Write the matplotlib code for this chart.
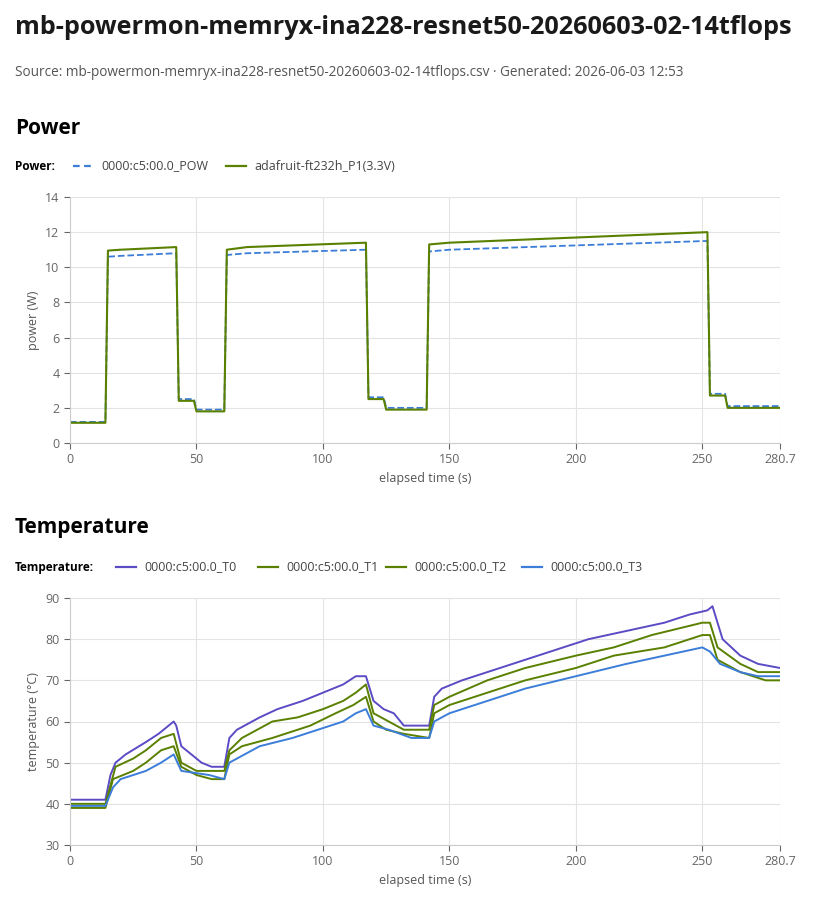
import matplotlib.pyplot as plt
from matplotlib.lines import Line2D

plt.rcParams["font.family"] = ["Segoe UI", "Open Sans", "DejaVu Sans"]

t_max = 280.7
xticks = [0, 50, 100, 150, 200, 250, 280.7]
xtick_labels = ["0", "50", "100", "150", "200", "250", "280.7"]

# power keypoints (time s, watts)
pow_t = [0, 14, 15, 20, 42, 43, 49, 50, 61, 62, 70, 117, 118, 124, 125, 141, 142, 150, 252, 253, 259, 260, 280.7]
pow_v = [1.2, 1.2, 10.6, 10.65, 10.8, 2.5, 2.5, 1.9, 1.9, 10.7, 10.8, 11.0, 2.6, 2.6, 2.0, 2.0, 10.9, 11.0, 11.5, 2.8, 2.8, 2.1, 2.1]
p1_t = [0, 14, 15, 20, 42, 43, 49, 50, 61, 62, 70, 117, 118, 124, 125, 141, 142, 150, 252, 253, 259, 260, 280.7]
p1_v = [1.15, 1.15, 10.95, 11.0, 11.15, 2.4, 2.4, 1.8, 1.8, 11.0, 11.15, 11.4, 2.5, 2.5, 1.9, 1.9, 11.3, 11.4, 12.0, 2.7, 2.7, 2.0, 2.0]

# temperature keypoints (time s, degC)
t0_t = [0, 14, 16, 18, 22, 30, 35, 41, 42, 44, 48, 52, 56, 61, 63, 66, 75, 82, 92, 100, 108, 113, 117, 120, 124, 128, 132, 142, 144, 147, 155, 165, 175, 185, 195, 205, 220, 235, 245, 252, 254, 258, 265, 272, 280.7]
t0_v = [41, 41, 47, 50, 52, 55, 57, 60, 59, 54, 52, 50, 49, 49, 56, 58, 61, 63, 65, 67, 69, 71, 71, 65, 63, 62, 59, 59, 66, 68, 70, 72, 74, 76, 78, 80, 82, 84, 86, 87, 88, 80, 76, 74, 73]
t1_t = [0, 14, 18, 25, 30, 36, 41, 44, 50, 61, 63, 68, 80, 90, 100, 108, 113, 117, 120, 126, 132, 142, 144, 150, 165, 180, 200, 215, 230, 250, 253, 256, 265, 272, 280.7]
t1_v = [40, 40, 49, 51, 53, 56, 57, 50, 48, 48, 53, 56, 60, 61, 63, 65, 67, 69, 62, 60, 58, 58, 64, 66, 70, 73, 76, 78, 81, 84, 84, 78, 74, 72, 72]
t2_t = [0, 14, 17, 25, 30, 36, 41, 44, 50, 56, 61, 63, 68, 80, 95, 105, 112, 117, 120, 125, 132, 142, 144, 150, 165, 180, 200, 215, 235, 250, 253, 256, 265, 275, 280.7]
t2_v = [39, 39, 46, 48, 50, 53, 54, 49, 47, 46, 46, 52, 54, 56, 59, 62, 64, 66, 60, 58, 57, 56, 62, 64, 67, 70, 73, 76, 78, 81, 81, 75, 72, 70, 70]
t3_t = [0, 14, 17, 20, 25, 30, 36, 41, 44, 55, 61, 63, 66, 75, 88, 98, 108, 113, 117, 120, 126, 135, 142, 144, 150, 165, 180, 200, 220, 235, 250, 253, 257, 265, 272, 280.7]
t3_v = [39.5, 39.5, 44, 46, 47, 48, 50, 52, 48, 47, 46, 50, 51, 54, 56, 58, 60, 62, 63, 59, 58, 56, 56, 60, 62, 65, 68, 71, 74, 76, 78, 77, 74, 72, 71, 71]

blue = "#3b7dd8"
green = "#5a8000"
purple = "#5b4bc4"
grid_c = "#e3e3e3"
tick_c = "#666666"

fig = plt.figure(figsize=(8.4, 9.1), dpi=100)
fig.text(15 / 840, 1 - 28 / 910, "mb-powermon-memryx-ina228-resnet50-20260603-02-14tflops",
         fontsize=18.2, fontweight="bold", va="center", color="#1a1a1a")
fig.text(15 / 840, 1 - 73 / 910,
         "Source: mb-powermon-memryx-ina228-resnet50-20260603-02-14tflops.csv \u00b7 Generated: 2026-06-03 12:53",
         fontsize=9.8, va="center", color="#555555")


def style(ax, ylim, yticks, ylabel):
    ax.set_xlim(0, t_max)
    ax.set_ylim(*ylim)
    ax.set_xticks(xticks)
    ax.set_xticklabels(xtick_labels)
    ax.set_yticks(yticks)
    ax.grid(True, color=grid_c, lw=0.8)
    for s in ["top", "right"]:
        ax.spines[s].set_visible(False)
    for s in ["left", "bottom"]:
        ax.spines[s].set_color("#cccccc")
    ax.tick_params(colors=tick_c, labelsize=9, length=4)
    ax.set_xlabel("elapsed time (s)", fontsize=9, color="#555555")
    ax.set_ylabel(ylabel, fontsize=9, color="#555555")


def legend_row(y, label, entries):
    fig.text(15 / 840, y, label, fontsize=8.5, fontweight="bold", va="center")
    for name, color, ls, x in entries:
        fig.add_artist(Line2D([x / 840, (x + 20) / 840], [y, y], color=color, ls=ls, lw=1.6))
        fig.text((x + 28) / 840, y, name, fontsize=9, va="center", color="#444444")


# power
fig.text(15 / 840, 1 - 128 / 910, "Power", fontsize=15, fontweight="bold", va="center")
legend_row(1 - 166 / 910, "Power:", [("0000:c5:00.0_POW", blue, (0, (3, 2)), 73),
                                     ("adafruit-ft232h_P1(3.3V)", green, "-", 226)])
ax1 = fig.add_axes([70 / 840, 1 - 443 / 910, 710 / 840, 246 / 910])
ax1.plot(pow_t, pow_v, color=blue, ls="--", lw=1.3)
ax1.plot(p1_t, p1_v, color=green, lw=1.5)
style(ax1, (0, 14), range(0, 15, 2), "power (W)")

# temperature
fig.text(15 / 840, 1 - 528 / 910, "Temperature", fontsize=15, fontweight="bold", va="center")
legend_row(1 - 567 / 910, "Temperature:", [("0000:c5:00.0_T0", purple, "-", 116),
                                           ("0000:c5:00.0_T1", green, "-", 258),
                                           ("0000:c5:00.0_T2", green, "-", 386),
                                           ("0000:c5:00.0_T3", blue, "-", 522)])
ax2 = fig.add_axes([70 / 840, 1 - 845 / 910, 710 / 840, 247 / 910])
ax2.plot(t0_t, t0_v, color=purple, lw=1.4)
ax2.plot(t1_t, t1_v, color=green, lw=1.4)
ax2.plot(t2_t, t2_v, color=green, lw=1.4)
ax2.plot(t3_t, t3_v, color=blue, lw=1.4)
style(ax2, (30, 90), range(30, 91, 10), "temperature (\u00b0C)")

fig.savefig("out.png", dpi=100)
